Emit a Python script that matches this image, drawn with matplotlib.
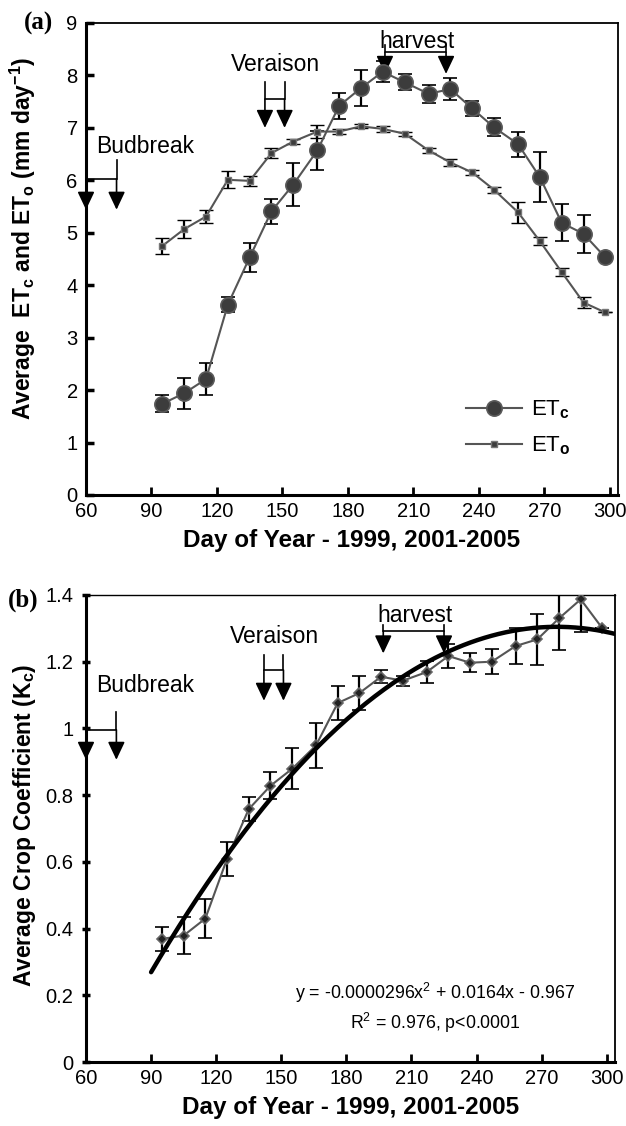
import numpy as np
import matplotlib
matplotlib.use("Agg")
import matplotlib.pyplot as plt

plt.rcParams['font.family'] = ['Liberation Sans', 'DejaVu Sans']
plt.rcParams['mathtext.fontset'] = 'custom'
plt.rcParams['mathtext.rm'] = 'Liberation Sans'
plt.rcParams['mathtext.it'] = 'Liberation Sans:italic'
plt.rcParams['mathtext.bf'] = 'Liberation Sans:bold'

# mean day of year for each 10-day period
days = [95, 105, 115, 125, 135, 145, 155, 166, 176, 186, 196,
        206, 217, 227, 237, 247, 258, 268, 278, 288, 298]

etc = [1.74, 1.94, 2.21, 3.63, 4.53, 5.41, 5.92, 6.57, 7.42, 7.76, 8.07,
       7.87, 7.65, 7.74, 7.37, 7.01, 6.69, 6.06, 5.19, 4.98, 4.53]
etc_err = [0.16, 0.30, 0.31, 0.14, 0.28, 0.24, 0.41, 0.38, 0.25, 0.35, 0.20,
           0.15, 0.17, 0.21, 0.15, 0.17, 0.24, 0.48, 0.35, 0.36, 0.0]

eto = [4.75, 5.07, 5.31, 6.01, 5.99, 6.52, 6.74, 6.93, 6.93, 7.03, 6.98,
       6.89, 6.57, 6.34, 6.15, 5.82, 5.39, 4.84, 4.25, 3.67, 3.48]
eto_err = [0.15, 0.17, 0.12, 0.16, 0.10, 0.09, 0.05, 0.12, 0.05, 0.04, 0.05,
           0.04, 0.04, 0.06, 0.05, 0.06, 0.20, 0.08, 0.08, 0.10, 0.0]

kc = [0.369, 0.379, 0.430, 0.609, 0.758, 0.828, 0.879, 0.949, 1.076, 1.106, 1.155,
      1.143, 1.169, 1.217, 1.197, 1.200, 1.247, 1.267, 1.330, 1.387, 1.300]
kc_err = [0.036, 0.056, 0.059, 0.052, 0.035, 0.041, 0.062, 0.067, 0.052, 0.050, 0.020,
          0.015, 0.034, 0.037, 0.028, 0.038, 0.055, 0.077, 0.094, 0.097, 0.0]

# quadratic fit of Kc against day of year
fit_coef = [-0.0000296, 0.0164, -0.967]
fit_start = 90

# phenology windows (first day, last day)
stages = ['Budbreak', 'Veraison', 'harvest']
stage_days = [(60, 74), (142, 151), (197, 225)]

W, H = 626, 1126
fig = plt.figure(figsize=(W / 100, H / 100), dpi=100)
ax1 = fig.add_axes([86 / W, 1 - 495 / H, 532 / W, 472 / H])
ax2 = fig.add_axes([86 / W, 1 - 1062 / H, 529 / W, 467 / H])

line_col = '#555555'
FS_TICK = 14.5
FS_LABEL = 16
FS_NOTE = 16.5


def style_axes(ax, ytick_dir):
    ax.set_xlim(60, 303.8)
    ax.set_xticks(range(60, 301, 30))
    for s in ['left', 'bottom']:
        ax.spines[s].set_linewidth(2.2)
    for s in ['top', 'right']:
        ax.spines[s].set_linewidth(1.3)
    ax.tick_params(axis='x', direction='in', length=6, width=2, labelsize=FS_TICK, pad=5)
    ax.tick_params(axis='y', direction=ytick_dir, length=6, width=2.5, labelsize=FS_TICK, pad=6)
    ax.set_xlabel('Day of Year - 1999, 2001-2005', fontsize=17.5, fontweight='bold',
                  labelpad=6)


def brackets(ax, levels, text_y):
    # levels: (top of stems, crossbar, arrow tip) for each stage
    for name, (d0, d1), (top, bar, tip), ty in zip(stages, stage_days, levels, text_y):
        ax.plot([d0, d0, d1, d1], [top, bar, bar, top], color='black', lw=1.2,
                clip_on=False, solid_joinstyle='miter')
        for d in (d0, d1):
            ax.annotate('', xy=(d, tip), xytext=(d, bar),
                        arrowprops=dict(arrowstyle='-|>,head_length=0.55,head_width=0.26',
                                        mutation_scale=20, color='black', lw=1.2,
                                        shrinkA=0, shrinkB=0),
                        annotation_clip=False)
        if name == 'Budbreak':
            ax.text(d0 + 4.5, ty, name, fontsize=FS_NOTE, ha='left', va='center')
        else:
            ax.text((d0 + d1) / 2 + 0.5, ty, name, fontsize=FS_NOTE, ha='center', va='center')


# (a) crop and reference evapotranspiration
ax1.errorbar(days, etc, yerr=etc_err, color=line_col, lw=1.5, marker='o', ms=11,
             mfc='#3c3c3c', mec='#5a5a5a', mew=1.2, ecolor='black', elinewidth=1.6,
             capsize=5, capthick=1.6, label='ET$_\\mathbf{c}$', zorder=3)
ax1.errorbar(days, eto, yerr=eto_err, color=line_col, lw=1.5, marker='s', ms=4,
             mfc='#3c3c3c', mec='#777777', mew=1, ecolor='black', elinewidth=1.6,
             capsize=5, capthick=1.6, label='ET$_\\mathbf{o}$', zorder=3)
ax1.set_ylim(0, 9)
ax1.set_yticks(range(0, 10))
style_axes(ax1, 'in')
fig.text(23 / W, 1 - 238 / H,
         'Average  ET$_\\mathbf{c}$ and ET$_\\mathbf{o}$ (mm day$^\\mathbf{-1}$)',
         fontsize=16.5, fontweight='bold', rotation=90, ha='center', va='center')
brackets(ax1, [(6.39, 6.03, 5.44), (7.87, 7.55, 7.0), (8.59, 8.44, 8.03)],
         text_y=(6.65, 8.2, 8.64))
h, l = ax1.get_legend_handles_labels()
ax1.legend([hh[0] for hh in h], l, loc='lower left', bbox_to_anchor=(0.715, 0.08),
           frameon=False, fontsize=FS_LABEL, handlelength=2.5, labelspacing=0.6,
           handletextpad=0.4, borderpad=0, borderaxespad=0)
fig.text(24 / W, 1 - 23 / H, '(a)', fontsize=18, fontweight='bold',
         family='Liberation Serif', va='center', ha='left')

# (b) crop coefficient
ax2.errorbar(days, kc, yerr=kc_err, color=line_col, lw=1.5, marker='D', ms=5.5,
             mfc='#222222', mec='#666666', mew=1.2, ecolor='black', elinewidth=1.6,
             capsize=5, capthick=1.6, zorder=3)
xf = np.linspace(fit_start, 303.8, 200)
ax2.plot(xf, np.polyval(fit_coef, xf), color='black', lw=3.2, zorder=4,
         solid_capstyle='round')
ax2.set_ylim(0, 1.4)
ax2.set_yticks(np.arange(0, 1.41, 0.2))
ax2.set_yticklabels(['0', '0.2', '0.4', '0.6', '0.8', '1', '1.2', '1.4'])
style_axes(ax2, 'inout')
ax2.spines['top'].set_linewidth(1)
fig.text(25 / W, 1 - 825 / H, 'Average Crop Coefficient (K$_\\mathbf{c}$)',
         fontsize=16.5, fontweight='bold', rotation=90, ha='center', va='center')
brackets(ax2, [(1.048, 0.996, 0.906), (1.22, 1.175, 1.083), (1.31, 1.292, 1.225)],
         text_y=(1.13, 1.275, 1.34))
ax2.text(221, 0.208, 'y = -0.0000296x$^2$ + 0.0164x - 0.967', fontsize=12.8,
         ha='center', va='center')
ax2.text(221, 0.118, 'R$^2$ = 0.976, p<0.0001', fontsize=12.8, ha='center', va='center')
fig.text(8 / W, 1 - 600 / H, '(b)', fontsize=18, fontweight='bold',
         family='Liberation Serif', va='center', ha='left')

fig.savefig('out.png', dpi=100)
